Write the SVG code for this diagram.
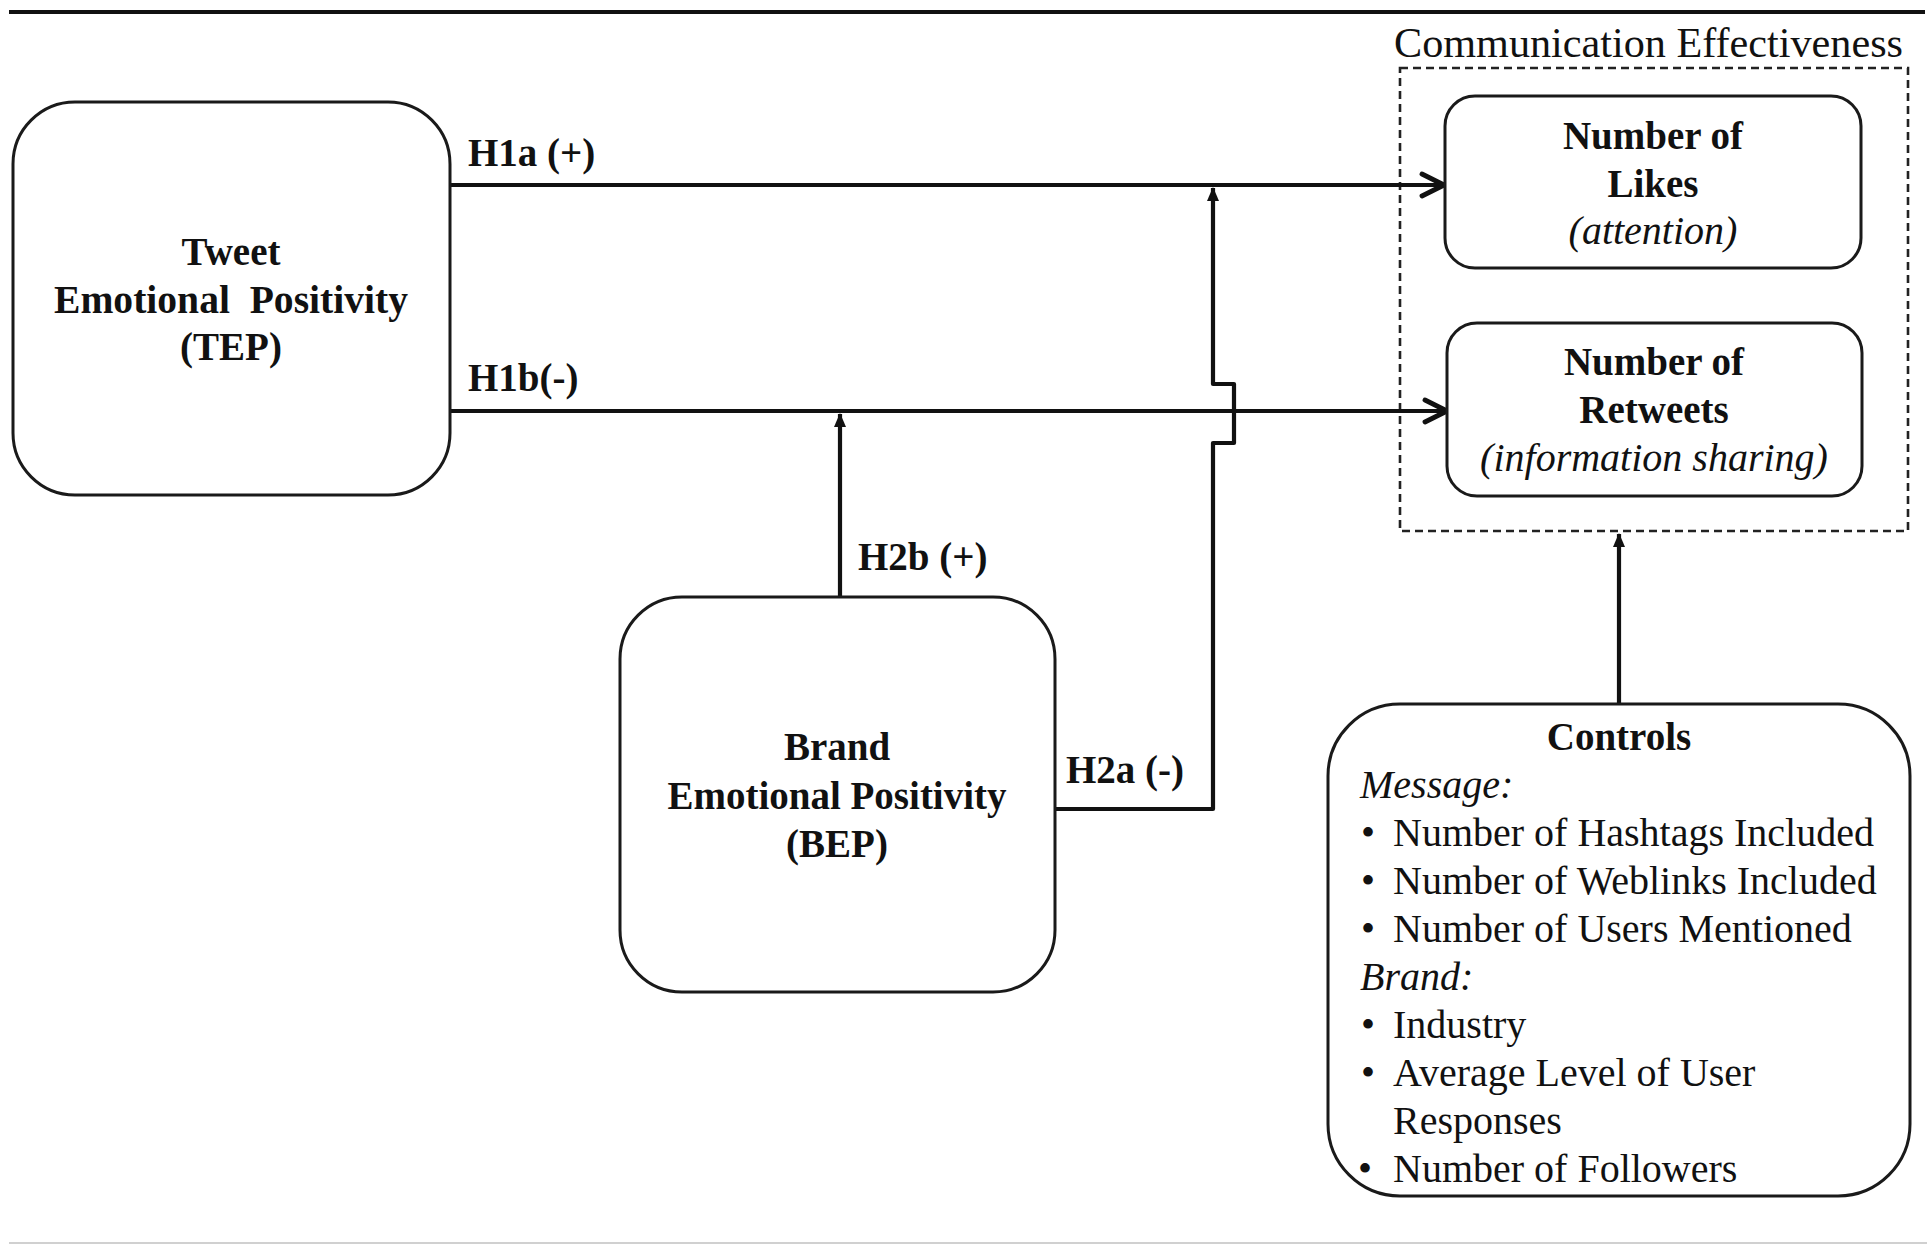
<svg xmlns="http://www.w3.org/2000/svg" width="1931" height="1248" viewBox="0 0 1931 1248">
<style>
text{font-family:"Liberation Serif","Times New Roman",serif;fill:#111}
.b{font-weight:bold;font-size:39px}
.c{text-anchor:middle}
.r{font-size:40px}
.i{font-style:italic}
.box{fill:#fff;stroke:#1a1a1a;stroke-width:3}
.con{fill:none;stroke:#111;stroke-width:4.2;stroke-linejoin:round}
</style>
<defs>
<marker id="chev" markerUnits="userSpaceOnUse" viewBox="0 0 30 30" refX="26" refY="15" markerWidth="30" markerHeight="30" orient="auto">
<path d="M4,4 L26,15 L4,26" fill="none" stroke="#111" stroke-width="4.8" stroke-linejoin="round" stroke-linecap="round"/>
</marker>
<marker id="tri" markerUnits="userSpaceOnUse" viewBox="0 0 14 12" refX="13" refY="6" markerWidth="14" markerHeight="12" orient="auto">
<path d="M0,0 L14,6 L0,12 Z" fill="#111"/>
</marker>
</defs>
<rect width="1931" height="1248" fill="#fff"/>
<line x1="9" y1="12" x2="1925" y2="12" stroke="#111" stroke-width="4"/>
<line x1="9" y1="1243" x2="1927" y2="1243" stroke="#d0d0d0" stroke-width="2"/>

<g id="effectiveness">
<rect x="1400" y="68" width="508" height="463" fill="none" stroke="#222" stroke-width="2.6" stroke-dasharray="8,5"/>
<text x="1394" y="57" font-size="42" textLength="509" lengthAdjust="spacingAndGlyphs">Communication Effectiveness</text>
</g>

<g id="connectors">
<path class="con" d="M451,185 H1444" marker-end="url(#chev)"/>
<path class="con" d="M451,411 H1447" marker-end="url(#chev)"/>
<path class="con" d="M840,597 V414" marker-end="url(#tri)"/>
<path class="con" d="M1055,809 H1213 V443 H1234 V384 H1213 V188" marker-end="url(#tri)"/>
<path class="con" d="M1619,704 V534" marker-end="url(#tri)"/>
<text class="b" x="468" y="166">H1a (+)</text>
<text class="b" x="468" y="391">H1b(-)</text>
<text class="b" x="858" y="570">H2b (+)</text>
<text class="b" x="1066" y="783">H2a (-)</text>
</g>

<g id="tep">
<rect class="box" x="13" y="102" width="437" height="393" rx="62"/>
<text class="b c" x="231" y="265">Tweet</text>
<text class="b c" x="231" y="313" xml:space="preserve" textLength="354" lengthAdjust="spacingAndGlyphs">Emotional  Positivity</text>
<text class="b c" x="231" y="360">(TEP)</text>
</g>

<g id="bep">
<rect class="box" x="620" y="597" width="435" height="395" rx="62"/>
<text class="b c" x="837" y="760">Brand</text>
<text class="b c" x="837" y="809">Emotional Positivity</text>
<text class="b c" x="837" y="857">(BEP)</text>
</g>

<g id="likes">
<rect class="box" x="1445" y="96" width="416" height="172" rx="30"/>
<text class="b c" x="1653" y="149">Number of</text>
<text class="b c" x="1653" y="197">Likes</text>
<text class="r i c" x="1653" y="244">(attention)</text>
</g>

<g id="retweets">
<rect class="box" x="1447" y="323" width="415" height="173" rx="30"/>
<text class="b c" x="1654" y="375">Number of</text>
<text class="b c" x="1654" y="423">Retweets</text>
<text class="r i c" x="1654" y="471">(information sharing)</text>
</g>

<g id="controls">
<rect class="box" x="1328" y="704" width="582" height="492" rx="72"/>
<text class="b c" x="1619" y="750">Controls</text>
<text class="r i" x="1360" y="798">Message:</text>
<text class="r" x="1361" y="846">•</text><text class="r" x="1393" y="846">Number of Hashtags Included</text>
<text class="r" x="1361" y="894">•</text><text class="r" x="1393" y="894">Number of Weblinks Included</text>
<text class="r" x="1361" y="942">•</text><text class="r" x="1393" y="942">Number of Users Mentioned</text>
<text class="r i" x="1360" y="990">Brand:</text>
<text class="r" x="1361" y="1038">•</text><text class="r" x="1393" y="1038">Industry</text>
<text class="r" x="1361" y="1086">•</text><text class="r" x="1393" y="1086">Average Level of User</text>
<text class="r" x="1393" y="1134">Responses</text>
<text class="r" x="1358" y="1182">•</text><text class="r" x="1393" y="1182">Number of Followers</text>
</g>
</svg>
